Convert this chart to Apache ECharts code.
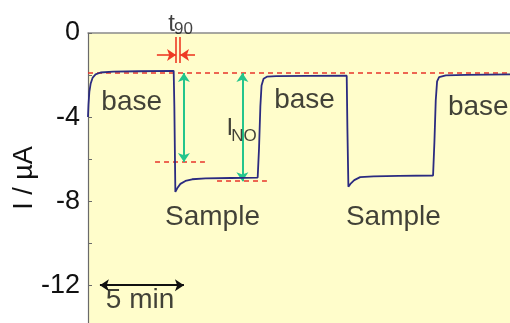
<!DOCTYPE html>
<html><head><meta charset="utf-8">
<script src="https://cdn.jsdelivr.net/npm/echarts@6/dist/echarts.min.js"></script>
<style>html,body{margin:0;padding:0;background:#fff}#c{width:510px;height:323px}</style>
</head><body><div id="c"></div>
<script>
// Time in minutes, current in µA
const traceTime = [0,0.03,0.08,0.16,0.28,0.45,0.75,1.5,3.0,5.1,5.14,5.2,5.32,5.5,5.8,6.2,7.0,8.5,10.1,10.18,10.26,10.33,10.45,10.65,11.2,13.0,15.4,15.44,15.5,15.62,15.85,16.2,17.0,18.5,20.54,20.62,20.7,20.78,20.9,21.3,22.5,25.2];
const traceCurrent = [-4.0,-3.4,-2.8,-2.4,-2.12,-1.97,-1.88,-1.84,-1.82,-1.80,-3.5,-7.56,-7.38,-7.18,-7.04,-6.96,-6.92,-6.90,-6.88,-5.5,-3.5,-2.5,-2.18,-2.08,-2.05,-2.04,-2.03,-4.5,-7.32,-7.18,-7.0,-6.86,-6.82,-6.8,-6.78,-5.2,-3.2,-2.3,-2.1,-2.02,-1.99,-1.97];

const yTickLabels = [0,-4,-8,-12];
const yTickValues = [0,-2,-4,-6,-8,-10,-12];

// Annotation segments [[t1,i1],[t2,i2]]
const dashedRefLines = [[[0,-1.9],[25.2,-1.9]], [[3.99,-6.14],[6.96,-6.14]], [[7.68,-7.05],[10.65,-7.05]]];
const greenArrows = [[[5.71,-1.9],[5.71,-6.14]], [[9.19,-1.9],[9.19,-7.05]]];
const t90Bars = [[[5.24,-0.19],[5.24,-1.43]], [[5.48,-0.19],[5.48,-1.43]]];
const t90Arrows = [[[4.1,-1.05],[5.24,-1.05]], [[6.37,-1.05],[5.48,-1.05]]];
const scaleArrow = [[[0.71,-12],[5.71,-12]]];

// Text annotations
const bigTexts = ['base','base','base','Sample','Sample','5 min'];
const bigTextTime = [2.6,12.89,23.23,7.41,18.18,3.1];
const bigTextCurrent = [-3.30,-3.20,-3.52,-8.76,-8.76,-12.7];
const mainSymbols = ['t','I'];
const mainSymbolTime = [4.97,8.45];
const mainSymbolCurrent = [0.41,-4.55];
const subscripts = ['90','NO'];
const subscriptTime = [5.68,9.29];
const subscriptCurrent = [0.19,-4.90];

const FONT = "'Liberation Sans', Arial, sans-serif";
const TXT = '#111111';
const pairs = (xs, ys) => xs.map((x, i) => [x, ys[i]]);
const textPts = (labels, xs, ys) => labels.map((l, i) => ({value: [xs[i], ys[i]], name: l}));
const segs = s => s.map(c => ({coords: c}));

const textSeries = (labels, xs, ys, size) => ({
  type: 'scatter', symbolSize: 0, clip: false, silent: true, z: 10,
  data: textPts(labels, xs, ys),
  label: {show: true, position: 'inside', formatter: p => p.name, fontSize: size,
    fontFamily: FONT, color: TXT, align: 'center', verticalAlign: 'middle'}
});
const lineSeries = (data, color, width, type, symbol, symSize) => ({
  type: 'lines', coordinateSystem: 'cartesian2d', polyline: false, silent: true, clip: false,
  data: segs(data), symbol: symbol, symbolSize: symSize,
  lineStyle: {color: color, width: width, type: type, opacity: 1}, z: 5
});

const chart = echarts.init(document.getElementById('c'));
chart.setOption({
  animation: false,
  backgroundColor: '#ffffff',
  grid: {left: 88, right: 0, top: 33, bottom: 0, show: true, backgroundColor: '#FFFDCB', borderWidth: 0,
    containLabel: false, outerBoundsMode: 'none'},
  xAxis: {type: 'value', min: 0, max: 25.12, position: 'top',
    axisLine: {show: true, lineStyle: {color: '#8a8a8a', width: 1.5}},
    axisTick: {show: false}, axisLabel: {show: false}, splitLine: {show: false}},
  yAxis: {type: 'value', min: -13.8, max: 0,
    name: 'I / µA', nameLocation: 'middle', nameGap: 50, nameMoveOverlap: false,
    nameTextStyle: {fontSize: 27, fontFamily: FONT, color: TXT},
    axisLine: {show: true, lineStyle: {color: '#6a6a6a', width: 1.2}},
    axisTick: {show: true, inside: true, length: 4, customValues: yTickValues, lineStyle: {color: '#6a6a6a'}},
    axisLabel: {customValues: yTickLabels, fontSize: 27, fontFamily: FONT, color: TXT, margin: 8},
    splitLine: {show: false}},
  series: [
    lineSeries(dashedRefLines, '#E8352B', 1.6, [5,4], 'none', 0),
    lineSeries(greenArrows, '#24C58C', 2, 'solid', ['arrow','arrow'], 9),
    lineSeries(t90Bars, '#EE3A24', 1.6, 'solid', 'none', 0),
    lineSeries(t90Arrows, '#EE3A24', 1.6, 'solid', ['none','arrow'], 9),
    lineSeries(scaleArrow, '#111111', 2, 'solid', ['arrow','arrow'], 9),
    {type: 'line', data: pairs(traceTime, traceCurrent), showSymbol: false, symbol: 'none',
     lineStyle: {color: '#2B2B80', width: 1.8}, z: 6, silent: true},
    textSeries(bigTexts, bigTextTime, bigTextCurrent, 28),
    textSeries(mainSymbols, mainSymbolTime, mainSymbolCurrent, 24),
    textSeries(subscripts, subscriptTime, subscriptCurrent, 17)
  ]
});
</script></body></html>
